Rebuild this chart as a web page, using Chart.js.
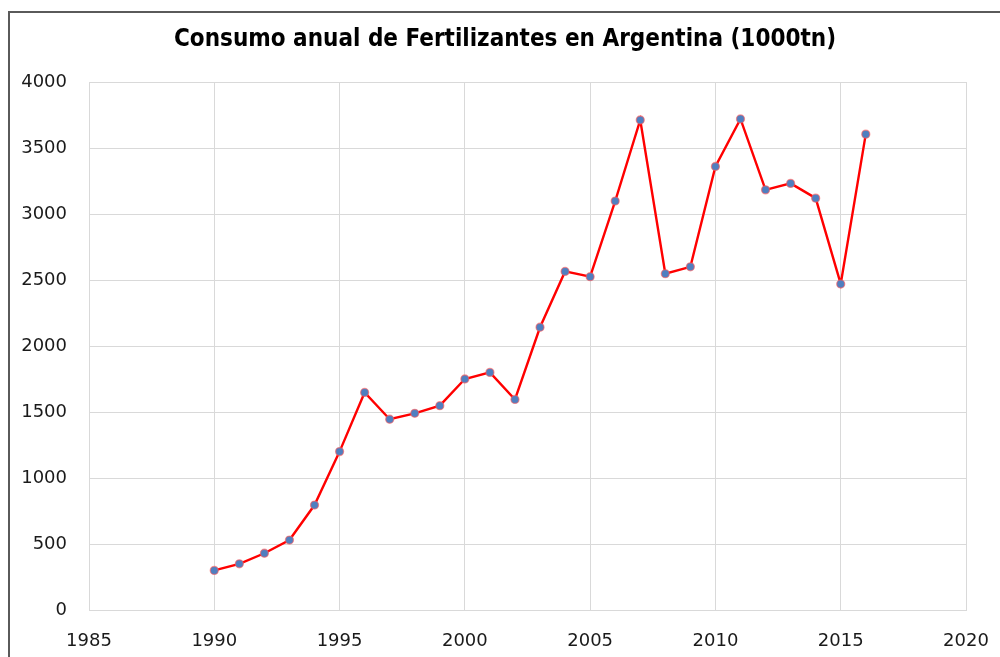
<!DOCTYPE html>
<html>
<head>
<meta charset="utf-8">
<script src="https://cdn.jsdelivr.net/npm/chart.js@4/dist/chart.umd.min.js"></script>
<style>
  html, body { margin: 0; padding: 0; background: #ffffff; }
  #wrap { position: relative; width: 1000px; height: 657px; overflow: hidden; }
  #frame { position: absolute; left: 8px; top: 11px; width: 1100px; height: 800px;
           border-left: 2px solid #5a5a5a; border-top: 2px solid #5a5a5a; box-sizing: border-box; pointer-events: none; }
  canvas { position: absolute; left: 0; top: 0; }
</style>
</head>
<body>
<div id="wrap">
  <canvas id="c" width="1000" height="657"></canvas>
  <div id="frame"></div>
</div>
<script>
const chartTitle = "Consumo anual de Fertilizantes en Argentina (1000tn)";
const years = [1990,1991,1992,1993,1994,1995,1996,1997,1998,1999,2000,2001,2002,2003,2004,2005,2006,2007,2008,2009,2010,2011,2012,2013,2014,2015,2016];
const consumo = [300,350,430,530,795,1200,1648,1445,1490,1548,1750,1800,1595,2142,2565,2525,3098,3712,2548,2600,3360,3720,3183,3232,3120,2470,3605];
const xMin = 1985, xMax = 2020, xStep = 5;
const yMin = 0, yMax = 4000, yStep = 500;

const points = years.map((y, i) => ({ x: y, y: consumo[i] }));
const tickFont = { family: "'DejaVu Sans', Verdana, sans-serif", size: 18 };

new Chart(document.getElementById('c'), {
  type: 'line',
  data: {
    datasets: [{
      data: points,
      borderColor: '#ff0000',
      borderWidth: 2.4,
      tension: 0,
      pointRadius: 4,
      pointBackgroundColor: '#4f7fc0',
      pointBorderColor: 'rgba(255,90,90,0.6)',
      pointBorderWidth: 1.3
    }]
  },
  options: {
    responsive: false,
    animation: false,
    devicePixelRatio: 1,
    layout: { padding: { left: 10, right: 0, top: 0, bottom: 0 } },
    plugins: {
      legend: { display: false },
      tooltip: { enabled: false },
      title: {
        display: true,
        text: chartTitle,
        color: '#000000',
        font: { family: "'DejaVu Sans Condensed', 'Liberation Sans Narrow', sans-serif", size: 24, weight: 'bold', lineHeight: 1.2 },
        padding: { top: 25, bottom: 28.2 }
      }
    },
    scales: {
      x: {
        type: 'linear',
        min: xMin, max: xMax,
        afterFit: s => { s.height = 47; s.paddingLeft = 0; s.paddingRight = 0; },
        ticks: { stepSize: xStep, color: '#1a1a1a', font: tickFont, padding: 21, maxRotation: 0,
                 callback: v => String(v) },
        grid: { color: '#d9d9d9', lineWidth: 1, drawTicks: false },
        border: { color: '#d9d9d9' }
      },
      y: {
        min: yMin, max: yMax,
        afterFit: s => { s.width = 79; s.paddingTop = 0; s.paddingBottom = 0; },
        ticks: { stepSize: yStep, color: '#1a1a1a', font: tickFont, padding: 22,
                 callback: v => String(v) },
        grid: { color: '#d9d9d9', lineWidth: 1, drawTicks: false },
        border: { color: '#d9d9d9' }
      },
      yRight: {
        position: 'right',
        min: yMin, max: yMax,
        afterFit: s => { s.width = 34; s.paddingTop = 0; s.paddingBottom = 0; },
        ticks: { display: false },
        grid: { display: false, drawTicks: false },
        border: { display: false }
      }
    }
  }
});
</script>
</body>
</html>
